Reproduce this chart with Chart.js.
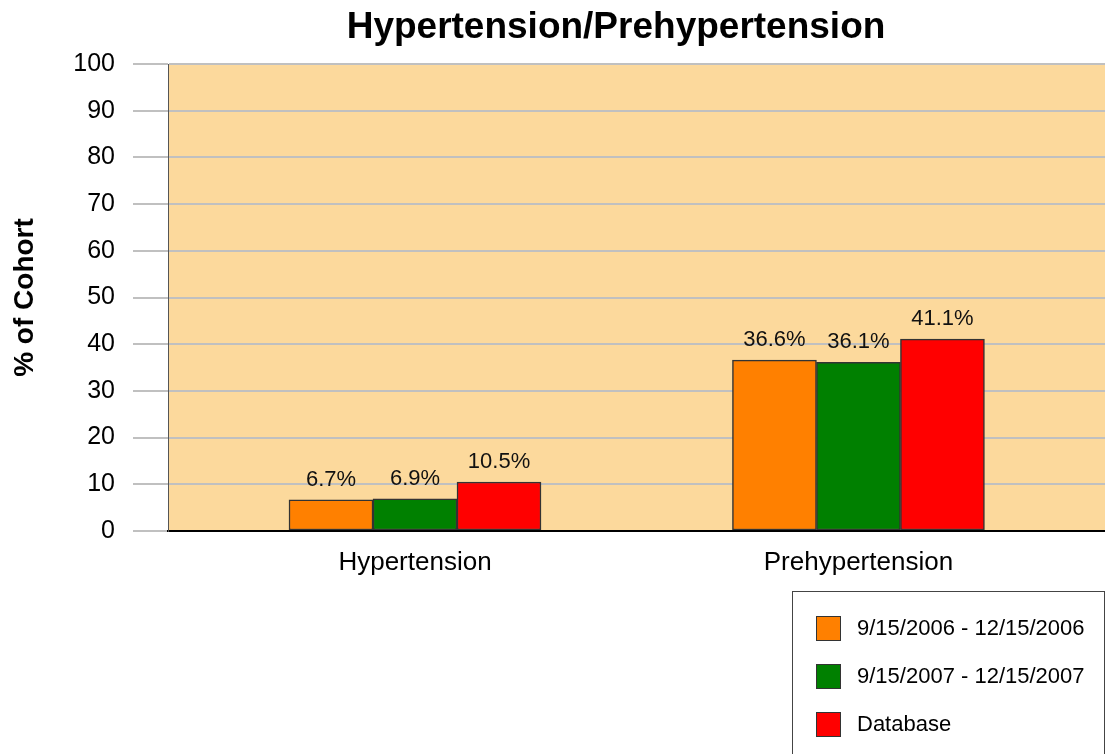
<!DOCTYPE html>
<html>
<head>
<meta charset="utf-8">
<title>Hypertension/Prehypertension</title>
<script src="https://cdn.jsdelivr.net/npm/chart.js@4.4.1/dist/chart.umd.min.js"></script>
<style>
  body { margin: 0; background: #fff; font-family: "Liberation Sans", Arial, sans-serif; }
  #wrap { position: relative; width: 1105px; height: 754px; }
  #legend {
    position: absolute; left: 792px; top: 591px; width: 313px; height: 175px;
    box-sizing: border-box; border: 1px solid #444; padding: 12px 0 0 23px;
  }
  #legend .item { display: flex; align-items: center; height: 48px; font-size: 22px; color: #000; }
  #legend .sw { width: 23px; height: 23px; border: 1px solid #333; margin-right: 16px; }
</style>
</head>
<body>
<div id="wrap">
  <canvas id="myChart" width="1105" height="754"></canvas>
  <div id="legend"></div>
</div>
<script>
const categories = ["Hypertension", "Prehypertension"];
const seriesNames = ["9/15/2006 - 12/15/2006", "9/15/2007 - 12/15/2007", "Database"];
const period2006 = [6.7, 36.6];
const period2007 = [6.9, 36.1];
const database = [10.5, 41.1];
const yTicks = [0, 10, 20, 30, 40, 50, 60, 70, 80, 90, 100];

const colors = ['#FF8000', '#008000', '#FF0000'];
const FONT = '"Liberation Sans", Arial, sans-serif';

// 背景色
const plotBg = {
    id: 'plotBg',
    beforeDraw(chart) {
        const { ctx, chartArea: a } = chart;
        ctx.save();
        ctx.fillStyle = '#FCD99C';
        ctx.fillRect(a.left, a.top, a.right - a.left, a.bottom - a.top);
        ctx.restore();
    }
};

// 標題
const titleText = {
    id: 'titleText',
    afterDraw(chart) {
        const ctx = chart.ctx;
        ctx.save();
        ctx.font = 'bold 37px ' + FONT;
        ctx.fillStyle = '#000';
        ctx.textAlign = 'center';
        ctx.textBaseline = 'middle';
        ctx.fillText('Hypertension/Prehypertension', 616, 28);
        ctx.restore();
    }
};

// 數值標籤
const valueLabels = {
    id: 'valueLabels',
    afterDatasetsDraw(chart) {
        const ctx = chart.ctx;
        ctx.save();
        ctx.font = '22px ' + FONT;
        ctx.fillStyle = '#111';
        ctx.textAlign = 'center';
        ctx.textBaseline = 'alphabetic';
        chart.data.datasets.forEach((ds, i) => {
            chart.getDatasetMeta(i).data.forEach((bar, j) => {
                ctx.fillText(ds.data[j].y.toFixed(1) + '%', bar.x, bar.y - 14);
            });
        });
        ctx.restore();
    }
};

const seriesValues = [period2006, period2007, database];

const chartData = {
    datasets: seriesValues.map((vals, i) => ({
        label: seriesNames[i],
        data: vals.map((v, j) => ({ x: j, y: v })),
        backgroundColor: colors[i],
        borderColor: '#333',
        borderWidth: 1.5,
        borderSkipped: false,
        barThickness: 84
    }))
};

const chart = new Chart(document.getElementById('myChart').getContext('2d'), {
    type: 'bar',
    data: chartData,
    options: {
        responsive: false,
        animation: false,
        layout: { padding: { top: 64, right: 0, bottom: 0, left: 0 } },
        plugins: {
            legend: { display: false },
            tooltip: { enabled: false }
        },
        scales: {
            x: {
                type: 'linear',
                offset: false,
                min: -0.557,
                max: 1.556,
                afterBuildTicks(scale) { scale.ticks = categories.map((c, i) => ({ value: i })); },
                afterFit(scale) { scale.height = 754 - 531; },
                grid: { display: false, drawTicks: false, offset: false },
                border: { display: true, color: '#000', width: 2 },
                ticks: {
                    callback: (v) => categories[v],
                    font: { family: FONT, size: 26 },
                    color: '#000',
                    padding: 16,
                    maxRotation: 0
                }
            },
            y: {
                min: 0,
                max: 100,
                afterBuildTicks(scale) { scale.ticks = yTicks.map(v => ({ value: v })); },
                afterFit(scale) { scale.width = 168; },
                grid: { color: '#C0C0C0', lineWidth: 2, tickLength: 35 },
                border: { color: '#555', width: 1 },
                ticks: {
                    font: { family: FONT, size: 25 },
                    color: '#000',
                    padding: 18
                },
                title: {
                    display: true,
                    text: '% of Cohort',
                    font: { family: FONT, size: 28, weight: 'bold' },
                    color: '#000',
                    padding: { top: 8, bottom: 4 }
                }
            }
        }
    },
    plugins: [plotBg, valueLabels, titleText]
});

// 圖例
const legendEl = document.getElementById('legend');
chart.data.datasets.forEach(ds => {
    const item = document.createElement('div');
    item.className = 'item';
    const sw = document.createElement('span');
    sw.className = 'sw';
    sw.style.background = ds.backgroundColor;
    const txt = document.createElement('span');
    txt.textContent = ds.label;
    item.appendChild(sw);
    item.appendChild(txt);
    legendEl.appendChild(item);
});
</script>
</body>
</html>
